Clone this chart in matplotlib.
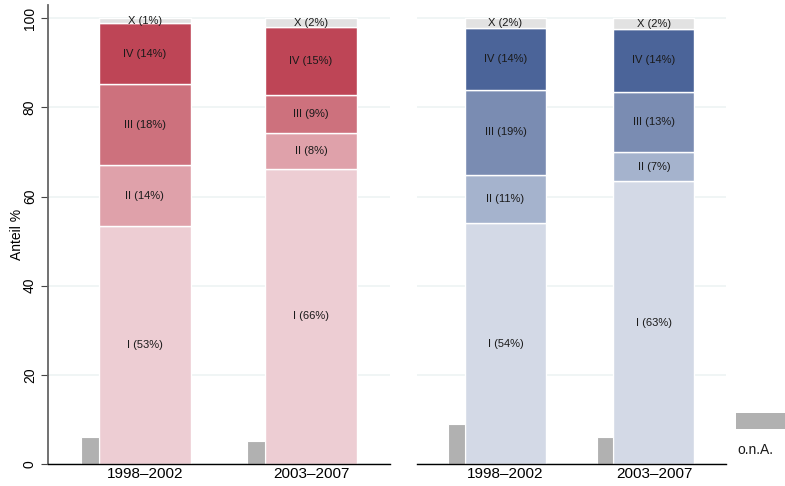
import matplotlib
matplotlib.use("Agg")
import matplotlib.pyplot as plt
from matplotlib.patches import Rectangle

plt.rcParams['font.family'] = ['Liberation Sans', 'DejaVu Sans']

periods = ["1998–2002", "2003–2007"]
classes = ["I", "II", "III", "IV", "X"]

# shares (%) per class, stacked bottom to top
left_shares = {
    "1998–2002": [53.3, 13.7, 18.3, 13.6, 1.1],
    "2003–2007": [66.3, 7.9, 8.6, 15.3, 1.9],
}
right_shares = {
    "1998–2002": [54.0, 10.9, 19.1, 13.8, 2.2],
    "2003–2007": [63.4, 6.7, 13.4, 14.1, 2.4],
}
# share without information (o.n.A.)
left_ona = [6.1, 5.2]
right_ona = [9.0, 6.1]

red_colors = ["#EDCDD3", "#DFA1AA", "#CD717D", "#BE4556", "#E2E2E2"]
blue_colors = ["#D3D9E6", "#A5B3CD", "#7A8CB2", "#4B6499", "#E2E2E2"]
ona_color = "#B1B1B1"
grid_color = "#EEF3F3"

fig = plt.figure(figsize=(7.85, 4.86), dpi=100)
ax_l = fig.add_axes([0.0611, 0.0453, 0.4357, 0.9444])
ax_r = fig.add_axes([0.5312, 0.0453, 0.3936, 0.9444])


def draw_panel(ax, shares, ona, colors, bar_w, ona_w, xlim):
    x = list(range(len(periods)))
    for i, p in enumerate(periods):
        bottom = 0.0
        for cls, val, col in zip(classes, shares[p], colors):
            ax.bar(x[i], val, bottom=bottom, width=bar_w, color=col,
                   edgecolor="white", linewidth=1.0, zorder=2)
            ax.text(x[i], bottom + val / 2, f"{cls} ({round(val)}%)",
                    ha="center", va="center", fontsize=8, color="#1a1a1a",
                    zorder=3)
            bottom += val
        ax.bar(x[i] - bar_w / 2 - ona_w / 2, ona[i], width=ona_w,
               color=ona_color, edgecolor="white", linewidth=0.8, zorder=2)
    ax.set_xlim(*xlim)
    ax.set_ylim(0, 103)
    ax.set_yticks([0, 20, 40, 60, 80, 100])
    ax.yaxis.grid(True, color=grid_color, linewidth=1.2, zorder=0)
    ax.set_axisbelow(True)
    ax.set_xticks(x)
    ax.set_xticklabels(periods, fontsize=11)
    ax.tick_params(axis="x", length=0, pad=2)
    for s in ["top", "right"]:
        ax.spines[s].set_visible(False)
    ax.spines["bottom"].set_color("black")
    ax.spines["bottom"].set_linewidth(1.0)


draw_panel(ax_l, left_shares, left_ona, red_colors, 0.554, 0.108,
           (-0.584, 1.476))
draw_panel(ax_r, right_shares, right_ona, blue_colors, 0.545, 0.114,
           (-0.596, 1.485))

ax_l.spines["left"].set_color("#666666")
ax_l.spines["left"].set_linewidth(1.3)
ax_l.tick_params(axis="y", length=5, labelsize=10, rotation=90, pad=3,
                 color="#444444")
for lab in ax_l.get_yticklabels():
    lab.set_va("center")
ax_l.set_ylabel("Anteil %", fontsize=10, labelpad=-1)

ax_r.spines["left"].set_visible(False)
ax_r.tick_params(axis="y", length=0, labelleft=False)

# legend for the o.n.A. share
fig.patches.append(Rectangle((736 / 785, (486 - 429) / 486), 49 / 785, 16 / 486,
                             transform=fig.transFigure, facecolor=ona_color,
                             edgecolor="none"))
fig.text(737 / 785, (486 - 450) / 486, "o.n.A.", fontsize=10, ha="left",
         va="center", color="#1a1a1a")

fig.savefig("out.png", dpi=100)
